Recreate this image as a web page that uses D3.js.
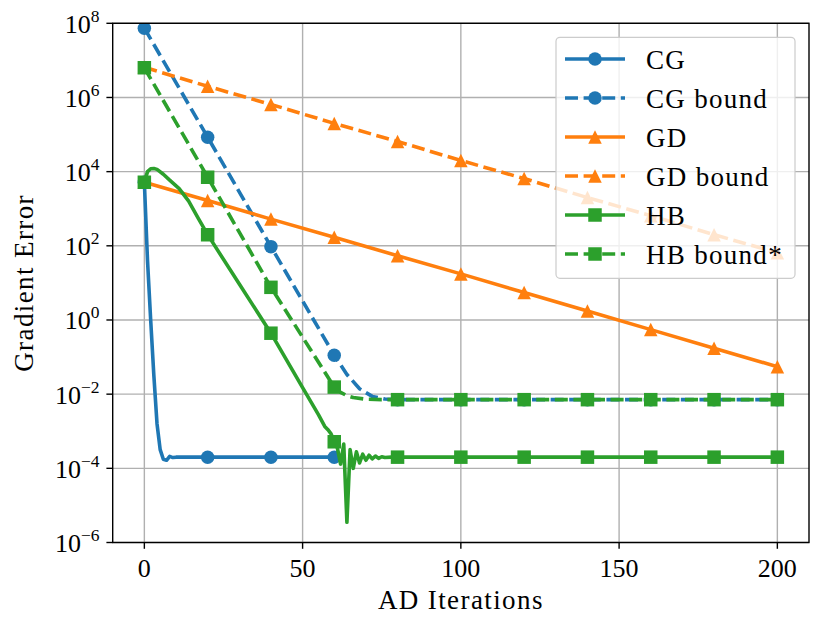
<!DOCTYPE html>
<html>
<head>
<meta charset="utf-8">
<script src="https://cdn.jsdelivr.net/npm/d3@7"></script>
<style>
  body { margin: 0; background: #fff; }
  text { font-family: "Liberation Serif", "DejaVu Serif", serif; fill: #000; }
</style>
</head>
<body>
<div id="chart"></div>
<script>
// values (iteration, gradient error)
const cgIters = [0, 1, 2, 3, 4, 5, 6, 7, 8, 9, 10, 20, 40, 60];
const cgErr = [5.2e3, 40, 1.0, 3.2e-2, 1.6e-3, 3.2e-4, 1.75e-4, 1.65e-4, 2.1e-4, 1.95e-4, 2.0e-4, 2.0e-4, 2.0e-4, 2.0e-4];

const cgBoundIters = [0, 20, 40, 60, 64, 68, 72, 76, 80, 100, 120, 140, 160, 180, 200];
const cgBoundErr = [7.4e7, 8.5e4, 95, 0.112, 3.4e-2, 1.4e-2, 8.7e-3, 7.4e-3, 7.1e-3, 7.1e-3, 7.1e-3, 7.1e-3, 7.1e-3, 7.1e-3, 7.1e-3];

const gdIters = [0, 20, 40, 60, 80, 100, 120, 140, 160, 180, 200];
const gdErr = [5.2e3, 1.66e3, 525, 170, 54, 17.5, 5.5, 1.74, 0.55, 0.174, 0.055];

const gdBoundIters = [0, 20, 40, 60, 80, 100, 120, 140, 160, 180, 200];
const gdBoundErr = [6.5e6, 2.0e6, 6.5e5, 2.0e5, 6.5e4, 2.0e4, 6.5e3, 2.0e3, 650, 200, 65];

const hbIters = [0, 1, 2, 3, 4, 6, 8, 11, 14, 17, 20, 30, 40, 50, 55, 57, 58, 59, 60,
  61, 62, 63, 64, 65, 66, 67, 68, 69, 70, 71, 72, 73, 74, 75, 76, 78,
  80, 100, 120, 140, 160, 180, 200];
const hbErr = [5.2e3, 1.0e4, 1.2e4, 1.22e4, 1.15e4, 8.5e3, 5.9e3, 3.5e3, 1.6e3, 5.6e2, 2.0e2, 9.3, 0.44, 1.5e-2, 2.8e-3, 1.35e-3, 1.1e-3, 8.5e-4, 5.2e-4,
  3.5e-4, 1.3e-4, 4.5e-4, 3.5e-6, 3.2e-4, 1.0e-4, 2.8e-4, 1.4e-4, 2.4e-4, 1.65e-4, 2.25e-4, 1.8e-4, 2.15e-4, 1.85e-4, 2.05e-4, 1.95e-4, 2.0e-4,
  2.0e-4, 2.0e-4, 2.0e-4, 2.0e-4, 2.0e-4, 2.0e-4, 2.0e-4];

const hbBoundIters = [0, 20, 40, 60, 62, 64, 66, 70, 75, 80, 100, 120, 140, 160, 180, 200];
const hbBoundErr = [6.3e6, 7.1e3, 7.6, 1.55e-2, 1.12e-2, 9.1e-3, 8.1e-3, 7.3e-3, 7.1e-3, 7.1e-3, 7.1e-3, 7.1e-3, 7.1e-3, 7.1e-3, 7.1e-3, 7.1e-3];

const xTicks = [0, 50, 100, 150, 200];
const yTicks = [1e-6, 1e-4, 1e-2, 1, 1e2, 1e4, 1e6, 1e8];

const series = [
  {name: "CG", iters: cgIters, vals: cgErr, color: "#1f77b4", dashed: false, marker: "circle"},
  {name: "CG bound", iters: cgBoundIters, vals: cgBoundErr, color: "#1f77b4", dashed: true, marker: "circle"},
  {name: "GD", iters: gdIters, vals: gdErr, color: "#ff7f0e", dashed: false, marker: "triangle"},
  {name: "GD bound", iters: gdBoundIters, vals: gdBoundErr, color: "#ff7f0e", dashed: true, marker: "triangle"},
  {name: "HB", iters: hbIters, vals: hbErr, color: "#2ca02c", dashed: false, marker: "square"},
  {name: "HB bound*", iters: hbBoundIters, vals: hbBoundErr, color: "#2ca02c", dashed: true, marker: "square"}
];

const width = 830, height = 628;
const margin = {top: 23.3, right: 21, bottom: 85.5, left: 112.7};
const dashArr = "13,5.6";
const lw = 3.6, ms = 13.5;

const svg = d3.select("#chart").append("svg")
  .attr("width", width).attr("height", height);

const x = d3.scaleLinear().domain([-10, 210]).range([margin.left, width - margin.right]);
const y = d3.scaleLog().domain([1e-6, 1e8]).range([height - margin.bottom, margin.top]);

function markerPath(type, s) {
  const h = s / 2;
  if (type === "circle") return `M${h},0A${h},${h} 0 1,1 ${-h},0A${h},${h} 0 1,1 ${h},0Z`;
  if (type === "square") return `M${-h},${-h}H${h}V${h}H${-h}Z`;
  return `M0,${-h}L${h},${h}L${-h},${h}Z`;
}

svg.append("defs").append("clipPath").attr("id", "plotclip")
  .append("rect")
  .attr("x", x.range()[0]).attr("y", y.range()[1])
  .attr("width", x.range()[1] - x.range()[0])
  .attr("height", y.range()[0] - y.range()[1]);

// grid
const grid = svg.append("g").attr("stroke", "#b0b0b0").attr("stroke-width", 1.4);
grid.selectAll(".gx").data(xTicks).join("line")
  .attr("x1", d => x(d)).attr("x2", d => x(d))
  .attr("y1", y.range()[1]).attr("y2", y.range()[0]);
grid.selectAll(".gy").data(yTicks).join("line")
  .attr("y1", d => y(d)).attr("y2", d => y(d))
  .attr("x1", x.range()[0]).attr("x2", x.range()[1]);

// lines + markers
const plot = svg.append("g").attr("clip-path", "url(#plotclip)");
const line = d3.line().x(d => x(d[0])).y(d => y(d[1]));

series.forEach(s => {
  const pts = s.iters.map((it, i) => [it, s.vals[i]]);
  plot.append("path")
    .datum(pts)
    .attr("d", line)
    .attr("fill", "none")
    .attr("stroke", s.color)
    .attr("stroke-width", lw)
    .attr("stroke-linejoin", "round")
    .attr("stroke-dasharray", s.dashed ? dashArr : null);
  plot.append("g").selectAll("path")
    .data(pts.filter(p => p[0] % 20 === 0))
    .join("path")
    .attr("transform", d => `translate(${x(d[0])},${y(d[1])})`)
    .attr("d", markerPath(s.marker, ms))
    .attr("fill", s.color);
});

// spines
svg.append("rect")
  .attr("x", x.range()[0]).attr("y", y.range()[1])
  .attr("width", x.range()[1] - x.range()[0])
  .attr("height", y.range()[0] - y.range()[1])
  .attr("fill", "none").attr("stroke", "#000").attr("stroke-width", 1.4);

// x axis
const xg = svg.append("g");
xg.selectAll("line").data(xTicks).join("line")
  .attr("x1", d => x(d)).attr("x2", d => x(d))
  .attr("y1", y.range()[0]).attr("y2", y.range()[0] + 6.3)
  .attr("stroke", "#000").attr("stroke-width", 1.4);
xg.selectAll("text").data(xTicks).join("text")
  .attr("x", d => x(d)).attr("y", 577)
  .attr("text-anchor", "middle")
  .attr("font-size", 26)
  .text(d => d);

// y axis
const yg = svg.append("g");
yg.selectAll("line").data(yTicks).join("line")
  .attr("y1", d => y(d)).attr("y2", d => y(d))
  .attr("x1", x.range()[0] - 6.3).attr("x2", x.range()[0])
  .attr("stroke", "#000").attr("stroke-width", 1.4);
const yt = yg.selectAll("text").data(yTicks).join("text")
  .attr("x", 99.5).attr("y", d => y(d) + 9.5)
  .attr("text-anchor", "end")
  .attr("font-size", 26);
yt.append("tspan").text("10");
yt.append("tspan")
  .attr("dy", -11)
  .attr("font-size", 17.5)
  .text(d => { const e = Math.round(Math.log10(d)); return e < 0 ? "\u2212" + (-e) : e; });

// axis labels
svg.append("text")
  .attr("x", (x.range()[0] + x.range()[1]) / 2).attr("y", 609)
  .attr("text-anchor", "middle")
  .attr("font-size", 27).attr("letter-spacing", 1.4)
  .text("AD Iterations");
svg.append("text")
  .attr("transform", `translate(33,${(y.range()[0] + y.range()[1]) / 2}) rotate(-90)`)
  .attr("text-anchor", "middle")
  .attr("font-size", 27).attr("letter-spacing", 1.4)
  .text("Gradient Error");

// legend
const lg = svg.append("g");
lg.append("rect")
  .attr("x", 556).attr("y", 37.3).attr("width", 239).attr("height", 241)
  .attr("rx", 4).attr("ry", 4)
  .attr("fill", "rgba(255,255,255,0.8)")
  .attr("stroke", "#cccccc").attr("stroke-width", 1.2);
series.forEach((s, i) => {
  const cy = 59 + i * 39;
  lg.append("line")
    .attr("x1", 565).attr("x2", 625).attr("y1", cy).attr("y2", cy)
    .attr("stroke", s.color).attr("stroke-width", lw)
    .attr("stroke-dasharray", s.dashed ? dashArr : null);
  lg.append("path")
    .attr("transform", `translate(595,${cy})`)
    .attr("d", markerPath(s.marker, ms))
    .attr("fill", s.color);
  lg.append("text")
    .attr("x", 646).attr("y", cy + 9.5)
    .attr("font-size", 27).attr("letter-spacing", 1.3)
    .text(s.name);
});
</script>
</body>
</html>
